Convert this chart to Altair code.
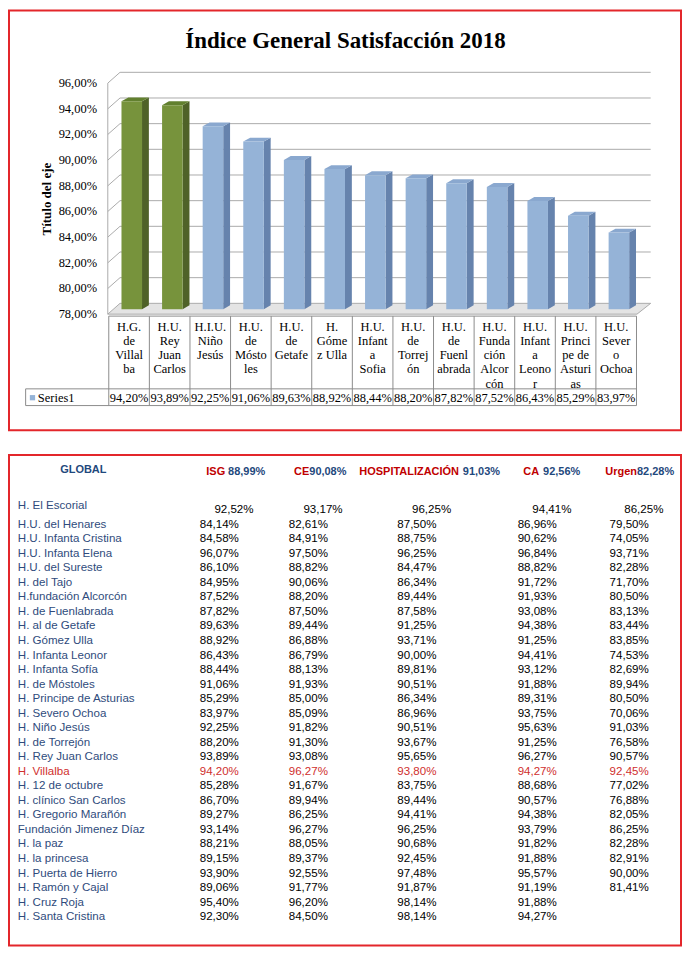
import altair as alt
import pandas as pd

# ---------------- data ----------------
TITLE = "Índice General Satisfacción 2018"
AXIS_TITLE = "Título del eje"
SERIES_NAME = "Series1"
BAR_LABELS = [
    "H.G.\nde\nVillal\nba", "H.U.\nRey\nJuan\nCarlos", "H.I.U.\nNiño\nJesús",
    "H.U.\nde\nMósto\nles", "H.U.\nde\nGetafe", "H.\nGóme\nz Ulla",
    "H.U.\nInfant\na\nSofia", "H.U.\nde\nTorrej\nón", "H.U.\nde\nFuenl\nabrada",
    "H.U.\nFunda\nción\nAlcor\ncón", "H.U.\nInfant\na\nLeono\nr",
    "H.U.\nPrinci\npe de\nAsturi\nas", "H.U.\nSever\no\nOchoa",
]
BAR_VALUES = [94.20, 93.89, 92.25, 91.06, 89.63, 88.92, 88.44, 88.20, 87.82, 87.52, 86.43, 85.29, 83.97]
BAR_GROUP = ["top", "top"] + ["rest"] * 11
Y_TICKS = [78, 80, 82, 84, 86, 88, 90, 92, 94, 96]

TABLE_TITLE = "GLOBAL"
HEADER_LABELS = ["ISG", "CE", "HOSPITALIZACIÓN", "CA", "Urgen"]
HEADER_VALUES = [88.99, 90.08, 91.03, 92.56, 82.28]
HOSPITALS = [
    "H. El Escorial", "H.U. del Henares", "H.U. Infanta Cristina", "H.U. Infanta Elena",
    "H.U. del Sureste", "H. del Tajo", "H.fundación Alcorcón", "H. de Fuenlabrada",
    "H. al de Getafe", "H. Gómez Ulla", "H. Infanta Leonor", "H. Infanta Sofía",
    "H. de Móstoles", "H. Principe de Asturias", "H. Severo Ochoa", "H. Niño Jesús",
    "H. de Torrejón", "H. Rey Juan Carlos", "H. Villalba", "H. 12 de octubre",
    "H. clínico San Carlos", "H. Gregorio Marañón", "Fundación Jimenez Díaz", "H. la paz",
    "H. la princesa", "H. Puerta de Hierro", "H. Ramón y Cajal", "H. Cruz Roja",
    "H. Santa Cristina",
]
ISG = [92.52, 84.14, 84.58, 96.07, 86.10, 84.95, 87.52, 87.82, 89.63, 88.92, 86.43, 88.44,
       91.06, 85.29, 83.97, 92.25, 88.20, 93.89, 94.20, 85.28, 86.70, 89.27, 93.14, 88.21,
       89.15, 93.90, 89.06, 95.40, 92.30]
CE = [93.17, 82.61, 84.91, 97.50, 88.82, 90.06, 88.20, 87.50, 89.44, 86.88, 86.79, 88.13,
      91.93, 85.00, 85.09, 91.82, 91.30, 93.08, 96.27, 91.67, 89.94, 86.25, 96.27, 88.05,
      89.37, 92.55, 91.77, 96.20, 84.50]
HOSP = [96.25, 87.50, 88.75, 96.25, 84.47, 86.34, 89.44, 87.58, 91.25, 93.71, 90.00, 89.81,
        90.51, 86.34, 86.96, 90.51, 93.67, 95.65, 93.80, 83.75, 89.44, 94.41, 96.25, 90.68,
        92.45, 97.48, 91.87, 98.14, 98.14]
CA = [94.41, 86.96, 90.62, 96.84, 88.82, 91.72, 91.93, 93.08, 94.38, 91.25, 94.41, 93.12,
      91.88, 89.31, 93.75, 95.63, 91.25, 96.27, 94.27, 88.68, 90.57, 94.38, 93.79, 91.82,
      91.88, 95.57, 91.19, 91.88, 94.27]
URG = [86.25, 79.50, 74.05, 93.71, 82.28, 71.70, 80.50, 83.13, 83.44, 83.85, 74.53, 82.69,
       89.94, 80.50, 70.06, 91.03, 76.58, 90.57, 92.45, 77.02, 76.88, 82.05, 86.25, 82.28,
       82.91, 90.00, 81.41, None, None]
HIGHLIGHT_HOSPITAL = "H. Villalba"

# ---------------- layout / style ----------------
W1, H1 = 674, 421
W2, H2 = 674, 492
SX = W1 / 687
SY1 = H1 / 427
SY2 = H2 / 500


def X(xr):
    return (xr - 1) * SX


def Y1(yr):
    return (yr - 1) * SY1


def Y2(yr):
    return (yr - 452) * SY2


SERIF = "Liberation Serif"
SANS = "Liberation Sans"
TFS = 11.6
HFS = 11.0
GREEN = ["#77933C", "#4F6228", "#62802F"]
BLUE = ["#95B3D7", "#6683AD", "#8AA8CF"]
GRID = "#ABABAB"
TABLE_LINE = "#8C8C8C"
RED_BOX = "#E3262B"
FMT = "replace(format(datum.v, '.2f'), '.', ',') + '%'"

pc = 1 / 41.5      # column units per reference pixel
pv = 1 / 13.056    # percent units per reference pixel
XS = alt.Scale(domain=[0, 13], range=[X(103), X(103 + 13 * 41.5)], zero=False, nice=False)
YS = alt.Scale(domain=[78, 96], range=[Y1(310), Y1(75)], zero=False, nice=False)

cf = (102 - 103) * pc
c_right_front = (643 - 103) * pc
c_right_back = (657 - 103) * pc
wdx, wdy = 12.5 * pc, 11 * pv


def face_color(k):
    return alt.condition(alt.datum.g == "top", alt.value(GREEN[k]), alt.value(BLUE[k]))


# ---------------- top chart ----------------
bars = pd.DataFrame({"i": list(range(13)), "v": BAR_VALUES, "g": BAR_GROUP, "label": BAR_LABELS})
bars["x1"] = bars["i"] + 13 * pc
bars["x2"] = bars["i"] + 34 * pc
bars["yt"] = bars["v"] + 5 * pv
bars["yb"] = 78 + 5 * pv
bars["c"] = bars["i"] + 0.5

side_rows, top_rows = [], []
for i, v, g in zip(range(13), BAR_VALUES, BAR_GROUP):
    side_rows.append({"i": i, "g": g, "xs": i + 34 * pc, "yt": v + 5 * pv, "yb": 78 + 5 * pv})
    side_rows.append({"i": i, "g": g, "xs": i + 41 * pc, "yt": v + 9 * pv, "yb": 78 + 9 * pv})
    top_rows.append({"i": i, "g": g, "yy": v + 5 * pv, "xl": i + 13 * pc, "xr": i + 34 * pc})
    top_rows.append({"i": i, "g": g, "yy": v + 9 * pv, "xl": i + 20 * pc, "xr": i + 41 * pc})
side = pd.DataFrame(side_rows)
topf = pd.DataFrame(top_rows)

grid_rows = []
for t in Y_TICKS[1:]:
    grid_rows.append({"xa": cf, "ya": t, "xb": cf + wdx, "yb": t + wdy})
    grid_rows.append({"xa": cf + wdx, "ya": t + wdy, "xb": c_right_back, "yb": t + wdy})
grid = pd.DataFrame(grid_rows)

floor = pd.DataFrame({"yy": [78, 78 + wdy], "xl": [cf, cf + wdx], "xr": [c_right_front, c_right_back]})

floor_l = alt.Chart(floor).mark_area(orient="horizontal", fill="#E4E4E4", stroke=GRID, strokeWidth=1).encode(
    y=alt.Y("yy:Q", scale=YS, axis=None),
    x=alt.X("xl:Q", scale=XS, axis=None),
    x2="xr:Q",
)

grid_l = alt.Chart(grid).mark_rule(color=GRID, strokeWidth=1).encode(
    x=alt.X("xa:Q", scale=XS, axis=None),
    y=alt.Y("ya:Q", scale=YS, axis=None),
    x2="xb:Q",
    y2="yb:Q",
)

front_axis = alt.Chart(pd.DataFrame({"x": [cf], "y0": [Y_TICKS[0]], "y1": [Y_TICKS[-1]]})).mark_rule(
    color=GRID, strokeWidth=1
).encode(
    x=alt.X("x:Q", scale=XS, axis=None),
    y=alt.Y("y0:Q", scale=YS, axis=None),
    y2="y1:Q",
)

ticks_df = pd.DataFrame({"v": Y_TICKS})
ylab_l = alt.Chart(ticks_df).transform_calculate(txt=FMT).mark_text(
    font=SERIF, fontSize=12.5, align="right", baseline="middle", color="#000000"
).encode(
    x=alt.value(X(91)),
    y=alt.Y("v:Q", scale=YS, axis=None),
    text="txt:N",
)
ytitle_l = alt.Chart(pd.DataFrame({"t": [AXIS_TITLE]})).mark_text(
    font=SERIF, fontSize=13, fontWeight="bold", angle=270, align="center", baseline="middle", color="#000000"
).encode(x=alt.value(X(40)), y=alt.value(Y1(193)), text="t:N")

side_l = alt.Chart(side).mark_area(orient="vertical").encode(
    x=alt.X("xs:Q", scale=XS, axis=None),
    y=alt.Y("yt:Q", scale=YS, axis=None),
    y2="yb:Q",
    detail="i:N",
    color=face_color(1),
)

top_l = alt.Chart(topf).mark_area(orient="horizontal").encode(
    y=alt.Y("yy:Q", scale=YS, axis=None),
    x=alt.X("xl:Q", scale=XS, axis=None),
    x2="xr:Q",
    detail="i:N",
    color=face_color(2),
)

front_l = alt.Chart(bars).mark_bar().encode(
    x=alt.X("x1:Q", scale=XS, axis=None),
    x2="x2:Q",
    y=alt.Y("yt:Q", scale=YS, axis=None),
    y2="yb:Q",
    color=face_color(0),
)

cat_l = alt.Chart(bars).mark_text(
    font=SERIF, fontSize=12.5, lineBreak="\n", baseline="top", align="center",
    lineHeight=14.5 * SY1, color="#000000",
).encode(
    x=alt.X("c:Q", scale=XS, axis=None),
    y=alt.value(Y1(316.5)),
    text="label:N",
)

val_l = alt.Chart(bars).transform_calculate(txt=FMT).mark_text(
    font=SERIF, fontSize=12.5, baseline="middle", align="center", color="#000000"
).encode(
    x=alt.X("c:Q", scale=XS, axis=None),
    y=alt.value(Y1(395)),
    text="txt:N",
)

edges = pd.DataFrame({"e": list(range(14))})
vlines = alt.Chart(edges).mark_rule(color=TABLE_LINE, strokeWidth=1).encode(
    x=alt.X("e:Q", scale=XS, axis=None),
    y=alt.value(Y1(312)),
    y2=alt.value(Y1(403)),
)
c_leg = (18 - 103) * pc
hl_top = alt.Chart(pd.DataFrame({"a": [0], "b": [13]})).mark_rule(color=TABLE_LINE, strokeWidth=1).encode(
    x=alt.X("a:Q", scale=XS, axis=None), x2="b:Q", y=alt.value(Y1(312))
)
hl_mid = alt.Chart(pd.DataFrame({"a": [c_leg], "b": [13]})).mark_rule(color=TABLE_LINE, strokeWidth=1).encode(
    x=alt.X("a:Q", scale=XS, axis=None), x2="b:Q", y=alt.value(Y1(386))
)
hl_bot = alt.Chart(pd.DataFrame({"a": [c_leg], "b": [13]})).mark_rule(color=TABLE_LINE, strokeWidth=1).encode(
    x=alt.X("a:Q", scale=XS, axis=None), x2="b:Q", y=alt.value(Y1(403))
)
vl_leg = alt.Chart(pd.DataFrame({"a": [c_leg]})).mark_rule(color=TABLE_LINE, strokeWidth=1).encode(
    x=alt.X("a:Q", scale=XS, axis=None), y=alt.value(Y1(386)), y2=alt.value(Y1(403))
)

series_df = pd.DataFrame({"s": [SERIES_NAME]})
leg_key = alt.Chart(series_df).mark_square(size=28, color=BLUE[0], opacity=1).encode(
    x=alt.value(X(25)), y=alt.value(Y1(395))
)
leg_txt = alt.Chart(series_df).mark_text(font=SERIF, fontSize=12.5, align="left", baseline="middle", color="#000000").encode(
    x=alt.value(X(30.5)), y=alt.value(Y1(395)), text="s:N"
)

title_l = alt.Chart(pd.DataFrame({"t": [TITLE]})).mark_text(
    font=SERIF, fontSize=23, fontWeight="bold", align="center", baseline="middle", color="#000000"
).encode(x=alt.value(X(345)), y=alt.value(Y1(32)), text="t:N")

top_chart = alt.layer(
    floor_l, grid_l, front_axis, side_l, top_l, front_l,
    vlines, hl_top, hl_mid, hl_bot, vl_leg, cat_l, val_l, leg_key, leg_txt,
    ylab_l, ytitle_l, title_l,
).properties(width=W1, height=H1)

# ---------------- bottom table ----------------
rows = []
for r, (h, a, b, c, d, e) in enumerate(zip(HOSPITALS, ISG, CE, HOSP, CA, URG)):
    for k, val in enumerate([a, b, c, d, e], start=1):
        if val is not None:
            rows.append({"r": r, "hospital": h, "col": k, "v": val})
long = pd.DataFrame(rows)
names = pd.DataFrame({"r": list(range(len(HOSPITALS))), "hospital": HOSPITALS})

YS2 = alt.Scale(domain=[1, 28], range=[Y2(523), Y2(923)], zero=False, nice=False)
COLS = alt.Scale(domain=[1, 2, 3, 4, 5], range=[X(216), X(307), X(418), X(541), X(635)], zero=False, nice=False)
NAME_BLUE = "#2F4B7C"
HL_RED = "#D0302E"
HEAD_RED = "#C00000"
HEAD_BLUE = "#1F497D"
is_hl = alt.datum.hospital == HIGHLIGHT_HOSPITAL

names_main = alt.Chart(names).transform_filter("datum.r > 0").mark_text(
    font=SANS, fontSize=TFS, align="left", baseline="middle"
).encode(
    x=alt.value(X(10)),
    y=alt.Y("r:Q", scale=YS2, axis=None),
    text="hospital:N",
    color=alt.condition(is_hl, alt.value(HL_RED), alt.value(NAME_BLUE)),
)
names_first = alt.Chart(names).transform_filter("datum.r == 0").mark_text(
    font=SANS, fontSize=TFS, align="left", baseline="middle", dy=-4 * SY2, color=NAME_BLUE
).encode(
    x=alt.value(X(10)),
    y=alt.Y("r:Q", scale=YS2, axis=None),
    text="hospital:N",
)
vals_main = alt.Chart(long).transform_filter("datum.r > 0").transform_calculate(txt=FMT).mark_text(
    font=SANS, fontSize=TFS, align="center", baseline="middle"
).encode(
    x=alt.X("col:Q", scale=COLS, axis=None),
    y=alt.Y("r:Q", scale=YS2, axis=None),
    text="txt:N",
    color=alt.condition(is_hl, alt.value(HL_RED), alt.value("#000000")),
)
vals_first = alt.Chart(long).transform_filter("datum.r == 0").transform_calculate(txt=FMT).mark_text(
    font=SANS, fontSize=TFS, align="center", baseline="middle", dx=15 * SX, color="#000000"
).encode(
    x=alt.X("col:Q", scale=COLS, axis=None),
    y=alt.Y("r:Q", scale=YS2, axis=None),
    text="txt:N",
)

head = pd.DataFrame({"i": [1, 2, 3, 4, 5], "lab": HEADER_LABELS, "v": HEADER_VALUES})
head_lab = alt.Chart(head).mark_text(
    font=SANS, fontSize=HFS, fontWeight="bold", align="right", baseline="middle", color=HEAD_RED
).encode(
    x=alt.X("i:Q", scale=alt.Scale(domain=[1, 2, 3, 4, 5], range=[X(222), X(308), X(461), X(543), X(643)], zero=False, nice=False), axis=None),
    y=alt.value(Y2(469)),
    text="lab:N",
)
head_val = alt.Chart(head).transform_calculate(txt=FMT).mark_text(
    font=SANS, fontSize=HFS, fontWeight="bold", align="left", baseline="middle", color=HEAD_BLUE
).encode(
    x=alt.X("i:Q", scale=alt.Scale(domain=[1, 2, 3, 4, 5], range=[X(225), X(308), X(465), X(547), X(643)], zero=False, nice=False), axis=None),
    y=alt.value(Y2(469)),
    text="txt:N",
)
global_l = alt.Chart(pd.DataFrame({"t": [TABLE_TITLE]})).mark_text(
    font=SANS, fontSize=HFS, fontWeight="bold", align="center", baseline="middle", color=HEAD_BLUE
).encode(x=alt.value(X(77)), y=alt.value(Y2(467)), text="t:N")

bottom_chart = alt.layer(
    global_l, head_lab, head_val, names_first, names_main, vals_first, vals_main
).resolve_scale(x="independent").properties(width=W2, height=H2)

chart = alt.vconcat(top_chart, bottom_chart, spacing=23).properties(
    padding={"left": 0, "top": 0, "right": 0, "bottom": 0}, background="white"
).configure_view(stroke=RED_BOX, strokeWidth=2)

chart.save("out.html", embed_options={"renderer": "svg", "actions": False})
